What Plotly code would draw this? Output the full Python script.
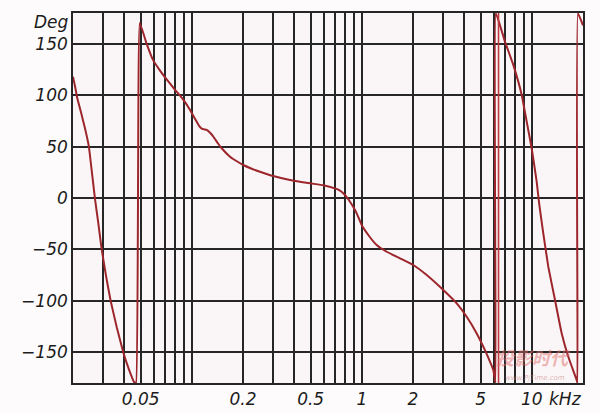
import plotly.graph_objects as go

# Phase response (frequency in kHz, phase in degrees)
freq_khz = [
    0.0200, 0.0206, 0.0212, 0.0224, 0.0235, 0.0248, 0.0258, 0.0269, 0.0282, 0.0295,
    0.0313, 0.0333, 0.0362, 0.0395, 0.0425, 0.0457, 0.0470,
    0.0494, 0.0540, 0.0591, 0.0650, 0.0715, 0.0790, 0.0875, 0.0977, 0.1040, 0.1100,
    0.1143, 0.1180, 0.1223, 0.1280, 0.1338, 0.1420, 0.1498,
    0.1677, 0.1850, 0.2008, 0.2250, 0.2518, 0.3014, 0.3780, 0.4957, 0.5940, 0.6950,
    0.7400, 0.7780, 0.8150, 0.8520, 0.8930, 0.9330, 0.9980, 1.092, 1.223, 1.400,
    1.677, 2.008, 2.408, 3.016, 3.616, 4.140, 4.740, 5.300, 5.680, 5.940,
    6.110, 6.140, 6.950, 7.780, 8.720, 9.330, 9.980, 10.68, 11.07, 11.68,
    12.50, 13.69, 14.99, 16.39, 17.40, 18.37, 18.55, 18.65, 20.00,
]
phase_deg = [
    118.0, 108.0, 97.0, 82.0, 68.0, 50.0, 26.0, 0.0, -25.0, -50.0,
    -76.0, -100.0, -126.0, -150.0, -166.0, -179.0, -180.0,
    170.4, 151.0, 134.4, 124.0, 114.9, 106.0, 97.4, 85.7, 77.5, 70.5,
    67.5, 66.8, 66.2, 63.5, 59.7, 53.5, 48.4,
    40.2, 35.5, 32.1, 28.5, 25.6, 21.4, 17.5, 14.3, 12.4, 9.4,
    7.5, 4.6, 0.8, -3.6, -9.0, -14.9, -26.3, -36.0, -45.8, -52.3,
    -58.7, -65.2, -75.0, -89.6, -102.6, -115.6, -131.8, -148.0, -159.4, -167.5,
    -180.0, 180.0, 152.2, 129.5, 100.3, 74.3, 48.4, 15.9, -6.8, -34.4,
    -66.9, -99.3, -131.8, -154.5, -166.5, -177.2, -180.0, 180.0, 168.0,
]

# extra vertical red trace seen near 6.4 kHz
marker_freq = [6.37, 6.37]
marker_phase = [-180.0, 180.0]

# grid / tick positions
x_grid = [0.03, 0.04, 0.05, 0.06, 0.07, 0.08, 0.09, 0.1,
          0.2, 0.3, 0.4, 0.5, 0.6, 0.7, 0.8, 0.9, 1,
          2, 3, 4, 5, 6, 7, 8, 9, 10]
x_labels = {0.05: "0.05", 0.2: "0.2", 0.5: "0.5", 1: "1", 2: "2", 5: "5", 10: "10"}
x_text = [x_labels.get(v, "") for v in x_grid]
y_ticks = [-150, -100, -50, 0, 50, 100, 150]

line_color = "#9c262c"
grid_color = "#262626"
font = dict(family="DejaVu Sans", size=17, color="#1c1c1c", style="italic")

fig = go.Figure()
fig.add_trace(go.Scatter(x=freq_khz, y=phase_deg, mode="lines",
                         line=dict(color=line_color, width=2, shape="spline", smoothing=0.3),
                         hoverinfo="skip"))
fig.add_trace(go.Scatter(x=marker_freq, y=marker_phase, mode="lines",
                         line=dict(color="#c0393f", width=1.6), hoverinfo="skip"))

fig.update_layout(
    width=600, height=413,
    margin=dict(l=73, r=17, t=13, b=30),
    paper_bgcolor="#fdfbfb",
    plot_bgcolor="#faf6f7",
    showlegend=False,
    font=font,
)
fig.update_xaxes(
    type="log", range=[-1.69897, 1.30103], automargin=False,
    tickvals=x_grid, ticktext=x_text,
    showgrid=True, gridcolor=grid_color, gridwidth=1.6,
    showline=True, mirror=True, linecolor=grid_color, linewidth=1.6,
    ticks="", tickfont=font, zeroline=False,
)
fig.update_yaxes(
    range=[-180, 180], automargin=False,
    tickvals=y_ticks,
    showgrid=True, gridcolor=grid_color, gridwidth=1.6,
    showline=True, mirror=True, linecolor=grid_color, linewidth=1.6,
    ticks="", tickfont=font, zeroline=False,
)

fig.add_annotation(text="Deg", xref="paper", x=0, xanchor="right", xshift=-2,
                   yref="y", y=171, yanchor="middle", showarrow=False, font=font)
fig.add_annotation(text="kHz", xref="paper", x=0.929, xanchor="left",
                   yref="paper", y=0, yanchor="top", yshift=-4, showarrow=False, font=font)
# watermark
fig.add_annotation(text="投影时代", xref="paper", x=0.902, xanchor="center",
                   yref="paper", y=0.03, yanchor="bottom", showarrow=False,
                   font=dict(family="Noto Sans CJK SC", size=18, weight="bold",
                             color="rgba(225,110,110,0.5)"))
fig.add_annotation(text="www.PjTime.com", xref="paper", x=0.905, xanchor="center",
                   yref="paper", y=-0.003, yanchor="bottom", showarrow=False,
                   font=dict(family="DejaVu Sans", size=7, color="rgba(200,120,120,0.55)"))

fig.write_html("out.html", config={"displayModeBar": False},
               post_script="document.body.style.margin='0';document.body.style.overflow='hidden';")
